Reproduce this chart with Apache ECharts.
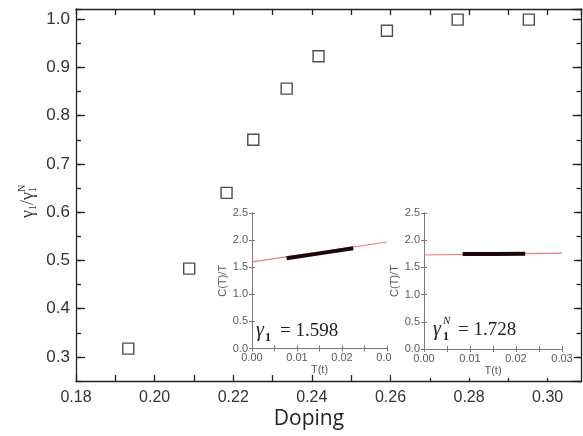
<!DOCTYPE html>
<html>
<head>
<meta charset="utf-8">
<script src="https://cdn.jsdelivr.net/npm/echarts@6/dist/echarts.min.js"></script>
<style>
  html, body { margin: 0; padding: 0; background: #fff; }
  #chart { width: 583px; height: 436px; }
</style>
</head>
<body>
<div id="chart"></div>
<script>
// main plot: gamma1 / gamma1^N vs doping
const doping = [0.1933, 0.2088, 0.2183, 0.2251, 0.2336, 0.2417, 0.2591, 0.2771, 0.2952]
const ratio = [0.317, 0.483, 0.640, 0.750, 0.856, 0.923, 0.976, 0.999, 0.999]
const mainXLabels = ['0.18', '0.20', '0.22', '0.24', '0.26', '0.28', '0.30']
const mainYLabels = ['0.3', '0.4', '0.5', '0.6', '0.7', '0.8', '0.9', '1.0']

// inset 1 (C/T vs T, doped sample)
const fit1T = [0, 0.03]
const fit1C = [1.598, 1.965]
const meas1T = [0.0077, 0.0150, 0.0225]
const meas1C = [1.665, 1.755, 1.850]

// inset 2 (C/T vs T, normal state)
const fit2T = [0, 0.03]
const fit2C = [1.728, 1.762]
const meas2T = [0.0084, 0.0150, 0.0220]
const meas2C = [1.745, 1.748, 1.750]

const insetXLabels = ['0.00', '0.01', '0.02', '0.03']
const insetYLabels = ['0.0', '0.5', '1.0', '1.5', '2.0', '2.5']

const zip = (a, b) => a.map((v, i) => [v, b[i]])

const frame = { color: '#222', width: 1.3 }
const insetFrame = { color: '#7a7a7a', width: 1 }
const labelFont = 'Liberation Sans, Arial, sans-serif'
const serif = '"Liberation Serif", "Times New Roman", serif'

const pick = (list, digits) => v => {
  const s = v.toFixed(digits)
  return list.includes(s) && Math.abs(parseFloat(s) - v) < 1e-6 ? s : ''
}

function insetAxes(grid, z) {
  const xa = (pos, show) => ({
    gridIndex: grid, type: 'value', position: pos, min: 0, max: 0.03, interval: 0.005, z,
    axisLine: { lineStyle: insetFrame },
    axisTick: { inside: true, length: 3, lineStyle: insetFrame },
    axisLabel: { show, formatter: pick(insetXLabels, 2), fontSize: 11, color: '#595959', margin: 4, fontFamily: labelFont },
    splitLine: { show: false },
    name: show ? 'T(t)' : '', nameLocation: 'middle', nameGap: 16,
    nameTextStyle: { fontSize: 11, color: '#595959', fontFamily: labelFont }
  })
  const ya = (pos, show) => ({
    gridIndex: grid, type: 'value', position: pos, min: 0, max: 2.5, interval: 0.5, z,
    axisLine: { lineStyle: insetFrame },
    axisTick: { inside: true, length: 3, lineStyle: insetFrame },
    axisLabel: { show, formatter: pick(insetYLabels, 1), fontSize: 11, color: '#595959', margin: 4, fontFamily: labelFont },
    splitLine: { show: false },
    name: show ? 'C(T)/T' : '', nameLocation: 'middle', nameGap: 20,
    nameTextStyle: { fontSize: 11, color: '#595959', fontFamily: labelFont }
  })
  return { x: [xa('bottom', true), xa('top', false)], y: [ya('left', true), ya('right', false)] }
}

const in1 = insetAxes(1, 1)
const in2 = insetAxes(2, 5)

const mainX = (pos, show) => ({
  gridIndex: 0, type: 'value', position: pos, min: 0.18, max: 0.3086, interval: 0.01,
  axisLine: { lineStyle: frame },
  axisTick: { inside: true, length: 6, lineStyle: frame },
  axisLabel: { show, formatter: pick(mainXLabels, 2), fontSize: 16, color: '#333', margin: 9, fontFamily: labelFont, showMaxLabel: false },
  splitLine: { show: false }
})
const mainYMajor = pos => ({
  gridIndex: 0, type: 'value', position: pos, min: 0.25, max: 1.021, splitNumber: 7,
  axisLine: { lineStyle: frame },
  axisTick: { inside: true, length: 9, lineStyle: frame },
  axisLabel: { show: pos === 'left', formatter: pick(mainYLabels, 1), fontSize: 17, color: '#333', margin: 6, fontFamily: labelFont, showMinLabel: false, showMaxLabel: false },
  splitLine: { show: false }
})
const mainYMinor = pos => ({
  gridIndex: 0, type: 'value', position: pos, min: 0.25, max: 1.021, interval: 0.05,
  axisLine: { show: false },
  axisTick: { inside: true, length: 5, lineStyle: frame },
  axisLabel: { show: false },
  splitLine: { show: false }
})

const option = {
  animation: false,
  backgroundColor: '#fff',
  grid: [
    { left: 76, top: 9, right: 1.5, bottom: 55 },
    { left: 252, top: 213, width: 135, height: 135.5, show: true, backgroundColor: '#fff', borderWidth: 0, z: 1 },
    { left: 424, top: 213, width: 138, height: 136, show: true, backgroundColor: '#fff', borderWidth: 0, z: 5 }
  ],
  // x: 0,1 main | 2,3 inset 1 | 4,5 inset 2
  xAxis: [mainX('bottom', true), mainX('top', false), ...in1.x, ...in2.x],
  // y: 0-3 main | 4,5 inset 1 | 6,7 inset 2
  yAxis: [mainYMajor('left'), mainYMinor('left'), mainYMajor('right'), mainYMinor('right'), ...in1.y, ...in2.y],
  series: [
    {
      type: 'scatter', xAxisIndex: 0, yAxisIndex: 0, data: zip(doping, ratio),
      symbol: 'rect', symbolSize: 11,
      itemStyle: { color: '#fff', borderColor: '#222', borderWidth: 1.4 }, z: 2
    },
    {
      type: 'line', xAxisIndex: 2, yAxisIndex: 4, data: zip(fit1T, fit1C), showSymbol: false,
      lineStyle: { color: '#f07878', width: 1.2 }, z: 2
    },
    {
      type: 'line', xAxisIndex: 2, yAxisIndex: 4, data: zip(meas1T, meas1C), showSymbol: false,
      lineStyle: { color: '#1c0808', width: 4 }, z: 3
    },
    {
      type: 'line', xAxisIndex: 4, yAxisIndex: 6, data: zip(fit2T, fit2C), showSymbol: false,
      lineStyle: { color: '#f07878', width: 1.2 }, z: 6
    },
    {
      type: 'line', xAxisIndex: 4, yAxisIndex: 6, data: zip(meas2T, meas2C), showSymbol: false,
      lineStyle: { color: '#1c0808', width: 4 }, z: 7
    }
  ],
  graphic: [
    // white patch of inset 2 laid over inset 1
    { type: 'rect', z: 4, shape: { x: 391, y: 205, width: 183, height: 173 }, style: { fill: '#fff' } },
    { type: 'text', z: 1,
      style: { text: 'Doping', x: 309, y: 419, font: '21px "Open Sans", sans-serif', fill: '#222', align: 'center', verticalAlign: 'middle' } },
    // y axis name
    { type: 'group', x: 28, y: 198, rotation: Math.PI / 2, z: 1, children: [
      { type: 'text', style: { text: 'γ', x: -20, y: 0, font: '18px ' + serif, fill: '#333', align: 'left', verticalAlign: 'middle' } },
      { type: 'text', style: { text: '1', x: -12, y: 5, font: '10px ' + serif, fill: '#333', align: 'left', verticalAlign: 'middle' } },
      { type: 'text', style: { text: '/', x: -7, y: 0, font: '18px ' + serif, fill: '#333', align: 'left', verticalAlign: 'middle' } },
      { type: 'text', style: { text: 'γ', x: -2, y: 0, font: '18px ' + serif, fill: '#333', align: 'left', verticalAlign: 'middle' } },
      { type: 'text', style: { text: '1', x: 6, y: 5, font: '10px ' + serif, fill: '#333', align: 'left', verticalAlign: 'middle' } },
      { type: 'text', style: { text: 'N', x: 6, y: -6, font: '10px ' + serif, fill: '#333', align: 'left', verticalAlign: 'middle' } }
    ] },
    // inset annotations
    { type: 'text', z: 8, style: { text: 'γ', x: 256, y: 331, font: 'italic 20px ' + serif, fill: '#222', align: 'left', verticalAlign: 'middle' } },
    { type: 'text', z: 8, style: { text: '1', x: 265, y: 338, font: 'bold 12px ' + serif, fill: '#222', align: 'left', verticalAlign: 'middle' } },
    { type: 'text', z: 8, style: { text: '= 1.598', x: 280, y: 331, font: '19px ' + serif, fill: '#222', align: 'left', verticalAlign: 'middle' } },
    { type: 'text', z: 8, style: { text: 'γ', x: 433, y: 330, font: 'italic 20px ' + serif, fill: '#222', align: 'left', verticalAlign: 'middle' } },
    { type: 'text', z: 8, style: { text: '1', x: 443, y: 337, font: 'bold 12px ' + serif, fill: '#222', align: 'left', verticalAlign: 'middle' } },
    { type: 'text', z: 8, style: { text: 'N', x: 443, y: 321, font: 'italic 11px ' + serif, fill: '#222', align: 'left', verticalAlign: 'middle' } },
    { type: 'text', z: 8, style: { text: '= 1.728', x: 458, y: 330, font: '19px ' + serif, fill: '#222', align: 'left', verticalAlign: 'middle' } }
  ]
}

const chart = echarts.init(document.getElementById('chart'))
chart.setOption(option)
</script>
</body>
</html>
